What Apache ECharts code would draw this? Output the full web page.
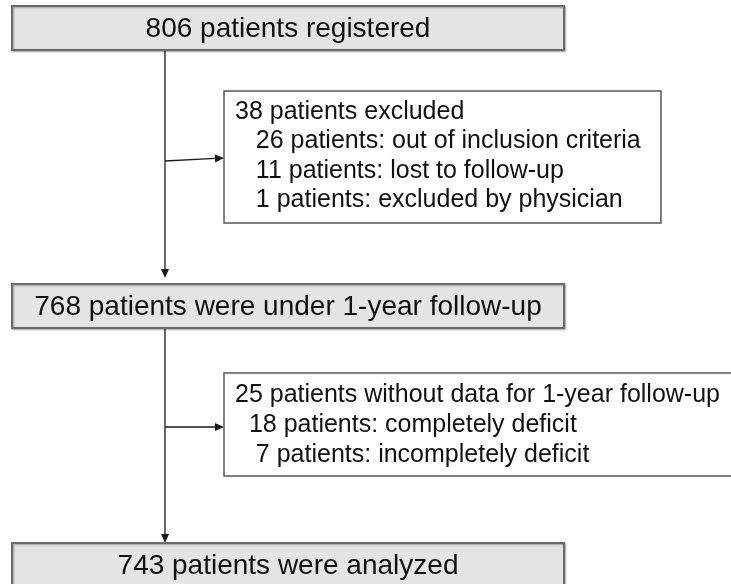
<!DOCTYPE html>
<html>
<head>
<meta charset="utf-8">
<script src="https://cdn.jsdelivr.net/npm/echarts@6/dist/echarts.min.js"></script>
<style>
  html, body {margin: 0; padding: 0; background: #fff;}
  #chart {width: 731px; height: 584px;}
</style>
</head>
<body>
<div id="chart"></div>
<script>
// flowchart content
const mainLabels = [
  "806 patients registered",
  "768 patients were under 1-year follow-up",
  "743 patients were analyzed",
];
const sideLines = [
  [
    "38 patients excluded",
    "   26 patients: out of inclusion criteria",
    "   11 patients: lost to follow-up",
    "   1 patients: excluded by physician",
  ],
  [
    "25 patients without data for 1-year follow-up",
    "  18 patients: completely deficit",
    "   7 patients: incompletely deficit",
  ],
];

// layout, in page units (x 0..731, y 0..584 top-down)
const mainLeft = 12;
const mainRight = 564;
const mainTop = [6, 284, 543];
const mainBottom = [50, 328, 587];
const sideLeft = 224;
const sideRight = [661, 745];
const sideTop = [91, 373];
const sideBottom = [223, 476];
const sideFirstLine = [112, 395];
const sideStep = [29.5, 30];
// connectors: [x1, y1, x2, y2], arrow at the end
const connectors = [
  [165, 50, 165, 278],
  [165, 161, 224, 158],
  [165, 328, 165, 543],
  [165, 427, 224, 427],
];

const FONT = "Arial, 'Liberation Sans', sans-serif";

const chart = echarts.init(document.getElementById("chart"), null, {renderer: "canvas"});

function mainBox(params, api) {
  const p0 = api.coord([api.value(0), api.value(1)]);
  const p1 = api.coord([api.value(2), api.value(3)]);
  return {
    type: "group",
    children: [
      {
        type: "rect",
        shape: {x: p0[0], y: p0[1], width: p1[0] - p0[0], height: p1[1] - p0[1]},
        style: {
          fill: "#e4e4e4",
          stroke: "#6a6a6a",
          lineWidth: 2,
          shadowBlur: 2,
          shadowOffsetX: 1,
          shadowOffsetY: 1,
          shadowColor: "rgba(0,0,0,0.3)",
        },
      },
      {
        type: "text",
        x: (p0[0] + p1[0]) / 2,
        y: (p0[1] + p1[1]) / 2 + 1,
        style: {
          text: mainLabels[params.dataIndex],
          font: "28px " + FONT,
          fill: "#111",
          align: "center",
          verticalAlign: "middle",
        },
      },
    ],
  };
}

function sideBox(params, api) {
  const i = params.dataIndex;
  const p0 = api.coord([api.value(0), api.value(1)]);
  const p1 = api.coord([api.value(2), api.value(3)]);
  const children = [{
    type: "rect",
    shape: {x: p0[0], y: p0[1], width: p1[0] - p0[0], height: p1[1] - p0[1]},
    style: {fill: "#fff", stroke: "#555", lineWidth: 1.5},
  }];
  sideLines[i].forEach((line, k) => {
    const pt = api.coord([sideLeft + 11, sideFirstLine[i] + k * sideStep[i]]);
    children.push({
      type: "text",
      x: pt[0],
      y: pt[1],
      style: {
        text: line,
        font: "25px " + FONT,
        fill: "#111",
        align: "left",
        verticalAlign: "middle",
      },
    });
  });
  return {type: "group", children};
}

function arrow(params, api) {
  const a = api.coord([api.value(0), api.value(1)]);
  const b = api.coord([api.value(2), api.value(3)]);
  const dx = b[0] - a[0];
  const dy = b[1] - a[1];
  const len = Math.sqrt(dx * dx + dy * dy);
  const ux = dx / len;
  const uy = dy / len;
  const headLen = 9;
  const headHalf = 4;
  const base = [b[0] - ux * headLen, b[1] - uy * headLen];
  return {
    type: "group",
    children: [
      {
        type: "line",
        shape: {x1: a[0], y1: a[1], x2: base[0], y2: base[1]},
        style: {stroke: "#1a1a1a", lineWidth: 1.3},
      },
      {
        type: "polygon",
        shape: {
          points: [
            [b[0], b[1]],
            [base[0] - uy * headHalf, base[1] + ux * headHalf],
            [base[0] + uy * headHalf, base[1] - ux * headHalf],
          ],
        },
        style: {fill: "#1a1a1a"},
      },
    ],
  };
}

chart.setOption({
  animation: false,
  backgroundColor: "#fff",
  grid: {left: 0, right: 0, top: 0, bottom: 0},
  xAxis: {type: "value", min: 0, max: 731, show: false},
  yAxis: {type: "value", min: 0, max: 584, inverse: true, show: false},
  series: [
    {
      type: "custom",
      renderItem: arrow,
      clip: false,
      data: connectors,
      z: 1,
    },
    {
      type: "custom",
      renderItem: mainBox,
      clip: false,
      data: mainLabels.map((t, i) => [mainLeft, mainTop[i], mainRight, mainBottom[i]]),
      z: 2,
    },
    {
      type: "custom",
      renderItem: sideBox,
      clip: false,
      data: sideLines.map((t, i) => [sideLeft, sideTop[i], sideRight[i], sideBottom[i]]),
      z: 2,
    },
  ],
});
</script>
</body>
</html>
